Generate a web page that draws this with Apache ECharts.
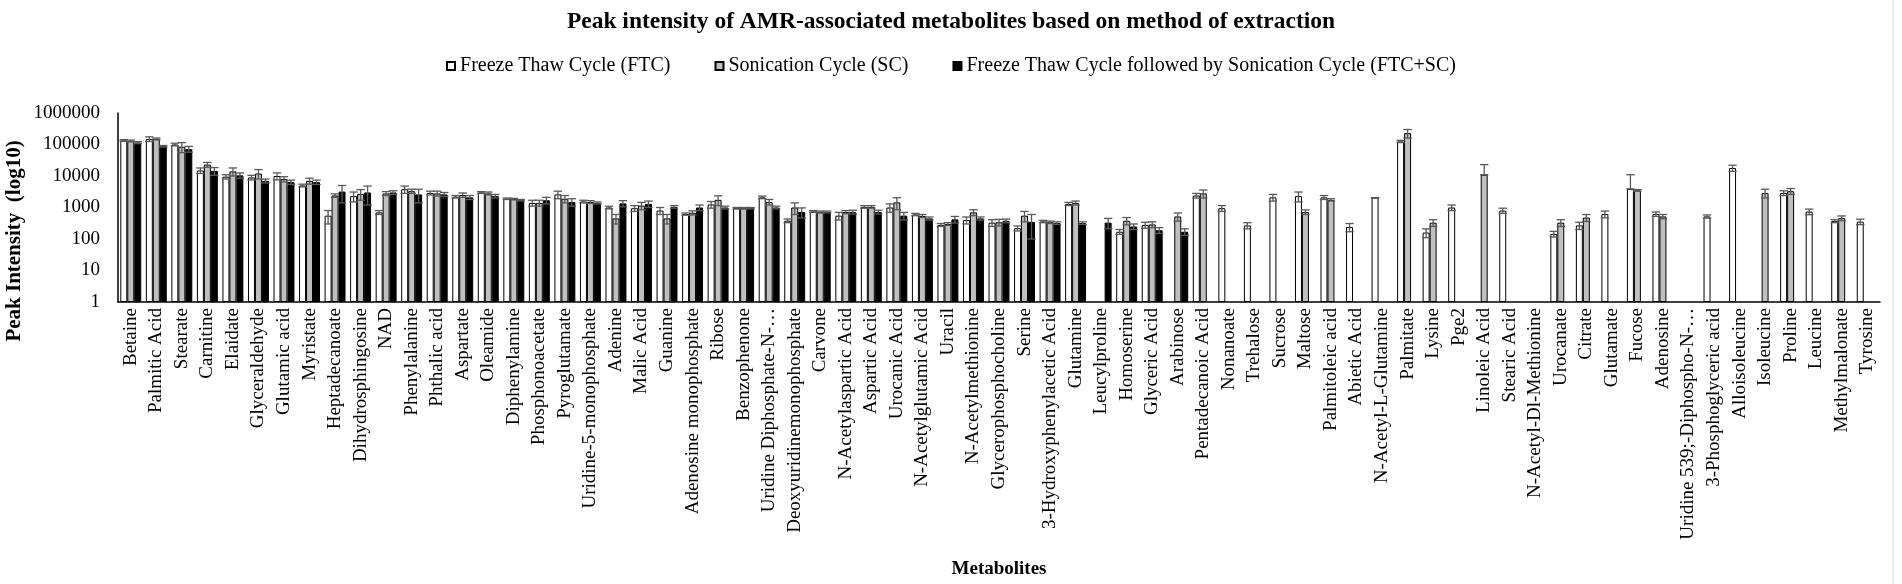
<!DOCTYPE html>
<html>
<head>
<meta charset="utf-8">
<script src="https://cdn.jsdelivr.net/npm/echarts@6/dist/echarts.min.js"></script>
<style>
  html, body { margin: 0; padding: 0; background: #fff; }
  #chart { width: 1902px; height: 584px; }
</style>
</head>
<body>
<div id="chart"></div>
<script>
var metabolites = ['Betaine', 'Palmitic Acid', 'Stearate', 'Carnitine', 'Elaidate', 'Glyceraldehyde',
    'Glutamic acid', 'Myristate', 'Heptadecanoate', 'Dihydrosphingosine', 'NAD', 'Phenylalanine',
    'Phthalic acid', 'Aspartate', 'Oleamide', 'Diphenylamine', 'Phosphonoacetate', 'Pyroglutamate',
    'Uridine-5-monophosphate', 'Adenine', 'Malic Acid', 'Guanine', 'Adenosine monophosphate', 'Ribose',
    'Benzophenone', 'Uridine Diphosphate-N-…', 'Deoxyuridinemonophosphate', 'Carvone',
    'N-Acetylaspartic Acid', 'Aspartic Acid', 'Urocanic Acid', 'N-Acetylglutamic Acid', 'Uracil',
    'N-Acetylmethionine', 'Glycerophosphocholine', 'Serine', '3-Hydroxyphenylacetic Acid', 'Glutamine',
    'Leucylproline', 'Homoserine', 'Glyceric Acid', 'Arabinose', 'Pentadecanoic Acid', 'Nonanoate',
    'Trehalose', 'Sucrose', 'Maltose', 'Palmitoleic acid', 'Abietic Acid', 'N-Acetyl-L-Glutamine',
    'Palmitate', 'Lysine', 'Pge2', 'Linoleic Acid', 'Stearic Acid', 'N-Acetyl-Dl-Methionine',
    'Urocanate', 'Citrate', 'Glutamate', 'Fucose', 'Adenosine', 'Uridine 539;-Diphospho-N-…',
    '3-Phosphoglyceric acid', 'Alloisoleucine', 'Isoleucine', 'Proline', 'Leucine', 'Methylmalonate',
    'Tyrosine'];

var yTicks = [1, 10, 100, 1000, 10000, 100000, 1000000];

// mean peak intensity per method (null = not detected)
var ftc = [135000, 150000, 100000, 15000, 9500, 9000, 10000, 5000, 550, 2300, 700, 3800,
    2900, 2200, 3000, 1900, 1400, 2600, 1550, 1000, 950, 800, 620, 1250,
    950, 2100, 380, 750, 550, 1050, 1000, 600, 280, 400, 330, 220, 360, 1300,
    null, 170, 280, null, 2400, 950, 270, 2100, 2300, 2100, 240, 2000,
    125000, 160, 1000, null, 800, null, 145, 270, 620, 3900, 620, null,
    520, 18000, null, 2900, 740, 370, 355];
var sc = [130000, 150000, 85000, 23000, 14000, 12000, 8000, 7000, 2400, 2700, 2800, 3300,
    2800, 2500, 2800, 1850, 1400, 1900, 1500, 450, 1150, 450, 680, 1750,
    950, 1500, 1000, 720, 720, 1050, 1450, 540, 300, 700, 340, 550, 340, 1400,
    null, 380, 290, 520, 2800, null, null, null, 720, 1750, null, null,
    230000, 330, null, 11000, null, null, 330, 480, null, 3500, 520, null,
    null, null, 2900, 3300, null, 460, null];
var ftcSc = [115000, 88000, 72000, 14500, 10500, 7000, 6400, 6400, 3200, 3000, 3000, 2600,
    2600, 2100, 2300, 1700, 1700, 1500, 1400, 1350, 1300, 1050, 1000, 1000,
    950, 1000, 720, 720, 720, 720, 550, 450, 420, 450, 380, 350, 320, 320,
    330, 250, 190, 170, null, null, null, null, null, null, null, null,
    null, null, null, null, null, null, null, null, null, null, null, null,
    null, null, null, null, null, null, null];

// error bar half-widths, read from the caps
var ftcErr = [8000, 25000, 10000, 3000, 1500, 1500, 2500, 500, 250, 800, 100, 1000,
    400, 200, 200, 100, 300, 700, 150, 100, 200, 200, 50, 300,
    50, 200, 50, 50, 150, 100, 300, 50, 30, 100, 80, 40, 30, 150,
    null, 30, 60, null, 400, 200, 60, 500, 800, 300, 70, 50,
    10000, 50, 200, null, 150, null, 30, 70, 150, 7100, 100, null,
    60, 4000, null, 500, 150, 40, 70];
var scErr = [8000, 10000, 30000, 4000, 4000, 4000, 1500, 1500, 300, 1000, 400, 500,
    500, 400, 300, 100, 300, 500, 150, 150, 300, 150, 100, 600,
    50, 300, 400, 50, 80, 100, 600, 60, 30, 150, 80, 200, 30, 200,
    null, 100, 60, 150, 800, null, null, null, 120, 150, null, null,
    70000, 80, null, 12000, null, null, 80, 120, null, 200, 80, null,
    null, null, 900, 700, null, 80, null];
var ftcScErr = [8000, 5000, 15000, 4000, 2000, 1000, 1000, 1000, 1800, 1800, 400, 1200,
    400, 300, 300, 100, 400, 400, 100, 300, 300, 100, 200, 100,
    50, 100, 250, 50, 100, 100, 150, 50, 100, 50, 50, 250, 30, 30,
    120, 50, 40, 40, null, null, null, null, null, null, null, null,
    null, null, null, null, null, null, null, null, null, null, null, null,
    null, null, null, null, null, null, null];

var seriesNames = ['Freeze Thaw Cycle (FTC)', 'Sonication Cycle (SC)',
    'Freeze Thaw Cycle followed by Sonication Cycle (FTC+SC)'];
var fills = ['#ffffff', '#bfbfbf', '#000000'];
var catGap = 0.18;
var serif = 'Liberation Serif';

function errData(vals, errs) {
    var out = [];
    for (var i = 0; i < vals.length; i++) {
        if (vals[i] == null || errs[i] == null) continue;
        var lo = vals[i] - errs[i] > 0 ? vals[i] - errs[i] : vals[i];
        out.push([i, lo, vals[i] + errs[i]]);
    }
    return out;
}

function errRenderer(slot) {
    return function (params, api) {
        var xi = api.value(0);
        var lo = api.coord([xi, api.value(1)]);
        var hi = api.coord([xi, api.value(2)]);
        var band = api.coord([1, 10])[0] - api.coord([0, 10])[0];
        var bw = band * (1 - catGap) / 3;
        var x = lo[0] + (slot - 1) * bw;
        var half = bw * 0.6;
        var style = { stroke: '#595959', lineWidth: 1.3 };
        return {
            type: 'group',
            children: [
                { type: 'line', shape: { x1: x, y1: lo[1], x2: x, y2: hi[1] }, style: style },
                { type: 'line', shape: { x1: x - half, y1: hi[1], x2: x + half, y2: hi[1] }, style: style },
                { type: 'line', shape: { x1: x - half, y1: lo[1], x2: x + half, y2: lo[1] }, style: style }
            ]
        };
    };
}

var chart = echarts.init(document.getElementById('chart'));

var values = [ftc, sc, ftcSc];
var errors = [ftcErr, scErr, ftcScErr];
var series = [];
for (var s = 0; s < 3; s++) {
    series.push({
        name: seriesNames[s],
        type: 'bar',
        data: values[s],
        barGap: '0%',
        barCategoryGap: (catGap * 100) + '%',
        itemStyle: { color: fills[s], borderColor: '#000', borderWidth: 1 }
    });
}
for (var s = 0; s < 3; s++) {
    series.push({
        name: seriesNames[s] + ' error',
        type: 'custom',
        renderItem: errRenderer(s),
        data: errData(values[s], errors[s]),
        encode: { x: 0, y: [1, 2] },
        z: 5,
        silent: true
    });
}

var option = {
    backgroundColor: '#ffffff',
    animation: false,
    title: {
        text: 'Peak intensity of AMR-associated metabolites based on method of extraction',
        left: 'center',
        top: 5,
        textStyle: { fontFamily: serif, fontWeight: 'bold', fontSize: 23.5, color: '#000' }
    },
    legend: {
        data: seriesNames,
        left: 'center',
        top: 51,
        itemGap: 44,
        itemWidth: 8,
        itemHeight: 8,
        icon: 'rect',
        textStyle: { fontFamily: serif, fontSize: 20, color: '#000' }
    },
    grid: { left: 118, right: 22, top: 113, bottom: 282, containLabel: false },
    xAxis: {
        type: 'category',
        data: metabolites,
        name: 'Metabolites',
        nameLocation: 'middle',
        nameGap: 258,
        nameTextStyle: { fontFamily: serif, fontWeight: 'bold', fontSize: 19, color: '#000' },
        axisLine: { lineStyle: { color: '#000', width: 1.5 } },
        axisTick: { show: false },
        axisLabel: { interval: 0, rotate: 90, fontFamily: serif, fontSize: 19, color: '#000', margin: 6 }
    },
    yAxis: {
        type: 'log',
        logBase: 10,
        min: yTicks[0],
        max: yTicks[yTicks.length - 1],
        axisLine: { show: true, lineStyle: { color: '#000', width: 1.5 } },
        axisTick: { show: false },
        splitLine: { show: false },
        axisLabel: {
            fontFamily: serif, fontSize: 19, color: '#000', margin: 18,
            formatter: function (v) { return String(Math.round(v)); }
        }
    },
    graphic: [{
        type: 'text',
        x: 15,
        y: 241,
        rotation: Math.PI / 2,
        style: {
            text: 'Peak Intensity  (log10)',
            align: 'center',
            verticalAlign: 'middle',
            font: 'bold 21px "Liberation Serif"',
            fill: '#000'
        }
    }, {
        type: 'line',
        shape: { x1: 1893, y1: 0, x2: 1893, y2: 584 },
        style: { stroke: '#d9d9d9', lineWidth: 1 }
    }],
    series: series
};

chart.setOption(option);
</script>
</body>
</html>
